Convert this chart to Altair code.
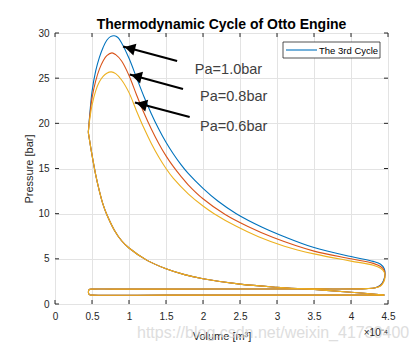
import altair as alt
import pandas as pd

# Volume in units of 1e-4 m^3, pressure in bar
# combustion + expansion + blowdown (per cycle)
blue_V = [0.45, 0.47, 0.50, 0.55, 0.60, 0.65, 0.70, 0.75, 0.80, 0.85, 0.90, 1.00, 1.10, 1.20, 1.30, 1.40, 1.50, 1.60, 1.70, 1.80, 2.00, 2.20, 2.45, 2.80, 3.10, 3.50, 4.00, 4.30, 4.40, 4.45, 4.46, 4.44, 4.40, 4.33, 4.20]
blue_P = [19.0, 21.0, 23.5, 25.8, 27.3, 28.4, 29.2, 29.6, 29.7, 29.5, 28.9, 27.2, 25.1, 23.0, 21.1, 19.4, 17.9, 16.6, 15.45, 14.45, 12.8, 11.4, 10.0, 8.5, 7.45, 6.25, 5.25, 4.72, 4.4, 3.9, 3.3, 2.6, 2.1, 1.8, 1.7]
orange_V = [0.45, 0.47, 0.50, 0.55, 0.60, 0.65, 0.70, 0.77, 0.82, 0.90, 1.00, 1.10, 1.20, 1.30, 1.40, 1.50, 1.60, 1.70, 1.80, 2.00, 2.30, 2.60, 2.95, 3.50, 4.00, 4.30, 4.40, 4.45, 4.46, 4.44, 4.40, 4.33, 4.20]
orange_P = [19.0, 20.8, 22.8, 24.7, 26.0, 26.9, 27.5, 27.8, 27.6, 26.9, 25.3, 23.2, 21.2, 19.4, 17.8, 16.4, 15.2, 14.15, 13.2, 11.65, 9.9, 8.6, 7.35, 5.85, 5.0, 4.5, 4.15, 3.7, 3.2, 2.5, 2.05, 1.8, 1.7]
yellow_V = [0.45, 0.47, 0.50, 0.55, 0.60, 0.65, 0.70, 0.76, 0.82, 0.90, 1.00, 1.10, 1.20, 1.30, 1.40, 1.50, 1.60, 1.80, 2.00, 2.15, 2.45, 2.75, 3.10, 3.50, 4.00, 4.30, 4.40, 4.45, 4.46, 4.44, 4.40, 4.33, 4.20]
yellow_P = [19.0, 20.5, 22.0, 23.6, 24.6, 25.2, 25.55, 25.7, 25.5, 24.8, 23.4, 21.4, 19.5, 17.8, 16.3, 15.0, 13.9, 12.2, 10.85, 10.0, 8.6, 7.45, 6.4, 5.55, 4.75, 4.3, 3.95, 3.5, 3.0, 2.4, 2.0, 1.8, 1.7]

# exhaust + intake strokes (shared)
low_V = [3.50, 2.50, 1.50, 0.80, 0.50, 0.47, 0.455, 0.455, 0.47, 0.50, 1.50, 2.50, 3.50, 4.45]
low_P = [1.67, 1.66, 1.65, 1.65, 1.65, 1.62, 1.50, 1.15, 1.01, 0.98, 0.98, 0.98, 0.98, 0.98]

# compression stroke (shared)
comp_V = [4.45, 4.00, 3.50, 3.00, 2.50, 2.00, 1.75, 1.50, 1.25, 1.00, 0.90, 0.80, 0.70, 0.65, 0.60, 0.55, 0.50, 0.45]
comp_P = [1.00, 1.30, 1.60, 1.85, 2.20, 2.80, 3.25, 3.90, 4.80, 6.20, 7.00, 8.20, 9.90, 11.0, 12.5, 14.3, 16.5, 19.0]

series = [("blue", blue_V, blue_P, "#0072BD"),
          ("orange", orange_V, orange_P, "#D95319"),
          ("yellow", yellow_V, yellow_P, "#EDB120")]

x_ticks = [0, 0.5, 1, 1.5, 2, 2.5, 3, 3.5, 4, 4.5]
y_ticks = [0, 5, 10, 15, 20, 25, 30]

ann_text = ["Pa=1.0bar", "Pa=0.8bar", "Pa=0.6bar"]
ann_text_V = [1.89, 1.96, 1.96]
ann_text_P = [25.9, 22.9, 19.6]
arrow_V0 = [1.65, 1.73, 1.82]
arrow_P0 = [26.9, 23.8, 20.7]
arrow_V1 = [0.92, 1.01, 1.08]
arrow_P1 = [28.5, 25.4, 22.3]

W, H = 333, 271
FONT = "Liberation Sans"

xs = alt.Scale(domain=[0, 4.5], nice=False, zero=False)
ys = alt.Scale(domain=[0, 30], nice=False, zero=False)

ax_x = alt.Axis(values=x_ticks, labelExpr="toString(datum.value)",
                labelOverlap=False, title="Volume [m³]", grid=True,
                gridColor="#e3e3e3", domain=False, ticks=False, labelPadding=7, labelFontSize=10,
                labelColor="#262626", labelFont=FONT, titleFont=FONT, titleFontSize=11,
                titleFontWeight="normal", titleColor="#262626", titlePadding=9, labelFlush=False)
ax_y = alt.Axis(values=y_ticks, labelExpr="toString(datum.value)",
                labelOverlap=False, title="Pressure [bar]", grid=True,
                gridColor="#e3e3e3", domain=False, ticks=False, labelPadding=6, labelFontSize=10,
                labelColor="#262626", labelFont=FONT, titleFont=FONT, titleFontSize=11,
                titleFontWeight="normal", titleColor="#262626", titlePadding=3)

X = lambda f: alt.X(f, scale=xs, axis=ax_x)
Y = lambda f: alt.Y(f, scale=ys, axis=ax_y)

layers = []

for name, V, P, col in series:
    rows = []
    k = 0
    for v, p in zip(V + low_V, P + low_P):
        rows.append({"V": v, "P": p, "seg": "a", "k": k}); k += 1
    for v, p in zip(comp_V, comp_P):
        rows.append({"V": v, "P": p, "seg": "b", "k": k}); k += 1
    df = pd.DataFrame(rows)
    layers.append(alt.Chart(df).mark_line(color=col, strokeWidth=1.1, interpolate="catmull-rom").encode(
        x=X("V:Q"), y=Y("P:Q"), detail="seg:N", order="k:Q"))

# inward ticks (box style)
xt = pd.DataFrame({"V": x_ticks})
yt = pd.DataFrame({"P": y_ticks})
tick_col = "#262626"
layers.append(alt.Chart(xt).mark_rule(color=tick_col).encode(x=X("V:Q"), y=alt.value(H), y2=alt.value(H - 4)))
layers.append(alt.Chart(xt).mark_rule(color=tick_col).encode(x=X("V:Q"), y=alt.value(0), y2=alt.value(4)))
layers.append(alt.Chart(yt).mark_rule(color=tick_col).encode(y=Y("P:Q"), x=alt.value(0), x2=alt.value(4)))
layers.append(alt.Chart(yt).mark_rule(color=tick_col).encode(y=Y("P:Q"), x=alt.value(W), x2=alt.value(W - 4)))

# arrows
arr = pd.DataFrame({"V0": arrow_V0, "P0": arrow_P0, "V1": arrow_V1, "P1": arrow_P1})
layers.append(alt.Chart(arr).mark_rule(color="black", strokeWidth=2.2).encode(
    x=X("V0:Q"), y=Y("P0:Q"), x2="V1:Q", y2="P1:Q"))
head = pd.DataFrame({"V": [v + 0.09 for v in arrow_V1], "P": [p - 0.2 for p in arrow_P1]})
layers.append(alt.Chart(head).mark_point(shape="triangle-up", filled=True, color="black", opacity=1,
                                         size=150, angle=284, strokeWidth=0).encode(
    x=X("V:Q"), y=Y("P:Q")))

# annotation texts
txt = pd.DataFrame({"V": ann_text_V, "P": ann_text_P, "t": ann_text})
layers.append(alt.Chart(txt).mark_text(align="left", baseline="middle", fontSize=14.5, font=FONT,
                                       color="#404040").encode(
    x=X("V:Q"), y=Y("P:Q"), text="t:N"))

# legend box
one = pd.DataFrame({"a": [0]})
layers.append(alt.Chart(one).mark_rect(fill="white", stroke="#262626", strokeWidth=0.8).encode(
    x=alt.value(228), x2=alt.value(325), y=alt.value(9), y2=alt.value(25)))
layers.append(alt.Chart(one).mark_rule(color="#0072BD", strokeWidth=1.1).encode(
    x=alt.value(231), x2=alt.value(262), y=alt.value(17)))
layers.append(alt.Chart(one).mark_text(align="left", baseline="middle", fontSize=9.5, font=FONT,
                                       color="#000000").encode(
    x=alt.value(264), y=alt.value(17.5), text=alt.value("The 3rd Cycle")))

# watermark
layers.append(alt.Chart(one).mark_text(align="left", baseline="alphabetic", fontSize=16, font=FONT,
                                       color="#d6d6d6", opacity=0.8).encode(
    x=alt.value(82), y=alt.value(305), text=alt.value("https://blog.csdn.net/weixin_41730400")))

# exponent label
layers.append(alt.Chart(one).mark_text(align="right", baseline="alphabetic", fontSize=10, font=FONT,
                                       color="#262626").encode(
    x=alt.value(W), y=alt.value(303), text=alt.value("×10⁻⁴")))

chart = alt.layer(*layers).properties(
    width=W, height=H,
    title=alt.TitleParams("Thermodynamic Cycle of Otto Engine", fontSize=14, fontWeight="bold",
                          font=FONT, color="#000000", anchor="middle", offset=-4),
    autosize=alt.AutoSizeParams(type="none"),
    padding={"left": 55, "top": 33, "right": 28, "bottom": 47},
).configure_view(stroke="#262626", strokeWidth=1).configure(background="white").configure_axis(labelOverlap=False)

chart.save("out.html", embed_options={"renderer": "svg", "actions": False})
